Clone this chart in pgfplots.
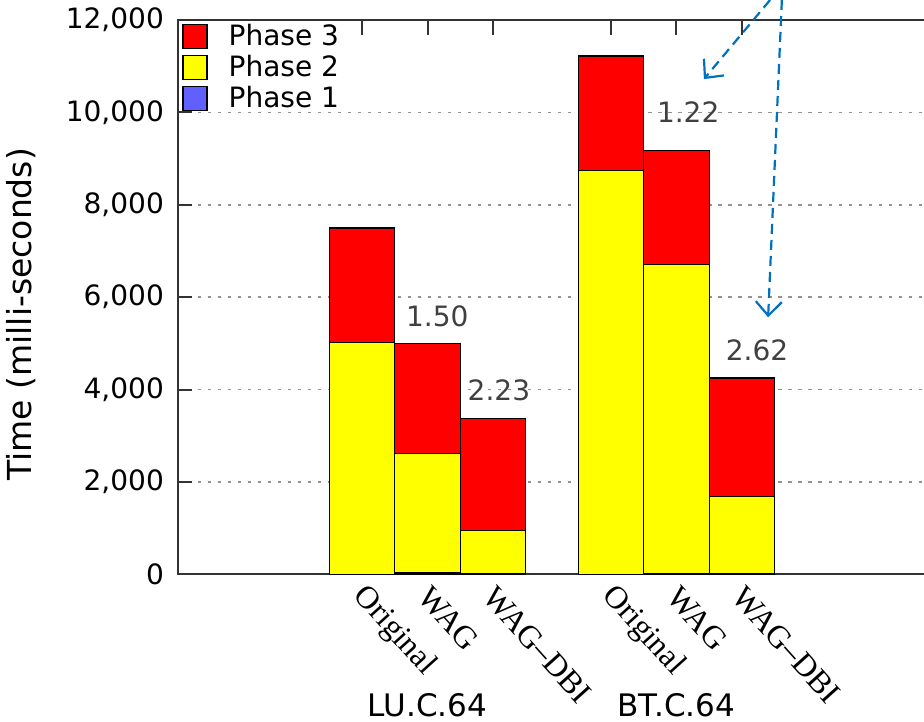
\documentclass[border=0pt]{standalone}
\usepackage{pgfplots}
\pgfplotsset{compat=1.18}
\usetikzlibrary{arrows.meta}
\usepackage{fontspec}
\setmainfont{DejaVu Sans}
\newfontfamily\serifx[Ligatures=TeX]{Liberation Serif}
\definecolor{phone}{HTML}{6060FF}
\definecolor{phtwo}{HTML}{FFFF00}
\definecolor{phthree}{HTML}{FF0000}
\definecolor{arrowblue}{HTML}{0070C0}
\definecolor{annot}{HTML}{404040}
\begin{document}
\begin{tikzpicture}
\begin{axis}[
  scale only axis, width=375pt, height=277pt,
  xmin=-1.81, xmax=9.65, ymin=0, ymax=12000,
  axis line style={line width=1pt, black!80},
  ybar stacked, bar width=1,
  clip=false,
  font=\fontsize{14}{16}\selectfont,
  xtick={1,2,3,4.8,5.8,6.8},
  xticklabels={Original,WAG,WAG--DBI,Original,WAG,WAG--DBI},
  xtick pos=both, xticklabel pos=lower,
  xticklabel style={font=\serifx\fontsize{16}{18}\selectfont, rotate=-48, anchor=west, xshift=1.5pt, yshift=-7pt},
  major x tick style={draw=black!80, line width=1pt, /pgfplots/major tick length=7pt},
  ytick={0,2000,...,12000},
  ytick pos=left,
  scaled y ticks=false,
  yticklabel style={/pgf/number format/1000 sep={,}, /pgf/number format/assume math mode=true, xshift=-3.5pt},
  major y tick style={draw=black!80, line width=1pt, /pgfplots/major tick length=7pt},
  ymajorgrids,
  grid style={gray!85, line width=0.8pt, dash pattern=on 1.6pt off 3.4pt},
  ylabel={Time (milli-seconds)},
  ylabel style={at={(axis description cs:-0.209,0.469)}, anchor=center, font=\fontsize{16.5}{18}\selectfont},
  legend style={draw=none, fill=none, at={(0,1)}, anchor=north west, xshift=-1pt, yshift=1.5pt,
    font=\fontsize{14}{16}\selectfont, row sep=0.3pt, nodes={inner sep=1.5pt},
    /tikz/every odd column/.append style={column sep=9pt}},
  reverse legend,
]
\addplot[fill=phone, draw=black, line width=0.6pt,
  legend image code/.code={\draw[fill=phone, draw=black, line width=0.6pt] (0pt,-6pt) rectangle (12pt,6pt);}]
  coordinates {(1,5) (2,30) (3,10) (4.8,5) (5.8,10) (6.8,20)};
\addplot[fill=phtwo, draw=black, line width=0.6pt,
  legend image code/.code={\draw[fill=phtwo, draw=black, line width=0.6pt] (0pt,-6pt) rectangle (12pt,6pt);}]
  coordinates {(1,5015) (2,2590) (3,940) (4.8,8745) (5.8,6700) (6.8,1670)};
\addplot[fill=phthree, draw=black, line width=0.6pt,
  legend image code/.code={\draw[fill=phthree, draw=black, line width=0.6pt] (0pt,-6pt) rectangle (12pt,6pt);}]
  coordinates {(1,2480) (2,2380) (3,2430) (4.8,2470) (5.8,2470) (6.8,2560)};
\legend{Phase 1,Phase 2,Phase 3}

\draw[black!80, line width=1pt] (axis cs:1,12000) -- (axis cs:1,11670);
\draw[black!80, line width=1pt] (axis cs:2,12000) -- (axis cs:2,11670);
\draw[black!80, line width=1pt] (axis cs:3,12000) -- (axis cs:3,11670);
\draw[black!80, line width=1pt] (axis cs:4.8,12000) -- (axis cs:4.8,11670);
\draw[black!80, line width=1pt] (axis cs:5.8,12000) -- (axis cs:5.8,11670);
\draw[black!80, line width=1pt] (axis cs:6.8,12000) -- (axis cs:6.8,11670);

\node[text=annot] at (axis cs:2.15,5590) {1.50};
\node[text=annot] at (axis cs:3.09,3985) {2.23};
\node[text=annot] at (axis cs:5.98,10006) {1.22};
\node[text=annot] at (axis cs:7.03,4850) {2.62};

\node at (axis cs:2,-2840) {\fontsize{15.5}{17}\selectfont LU.C.64};
\node at (axis cs:5.8,-2840) {\fontsize{15.5}{17}\selectfont BT.C.64};

\draw[arrowblue, line width=1.1pt, dash pattern=on 5pt off 3pt, -{Straight Barb[length=7pt, width=13pt]}]
  (axis cs:7.23,12433) -- (axis cs:6.22,10721);
\draw[arrowblue, line width=1.1pt, dash pattern=on 5pt off 3pt, -{Straight Barb[length=7pt, width=13pt]}]
  (axis cs:7.41,12433) -- (axis cs:7.20,5566);

\coordinate (bbTL) at (axis cs:-4.527,12433);
\coordinate (bbBR) at (axis cs:9.58,-3184);
\end{axis}
\pgfresetboundingbox
\useasboundingbox (bbTL) rectangle (bbBR);
\end{tikzpicture}
\end{document}
